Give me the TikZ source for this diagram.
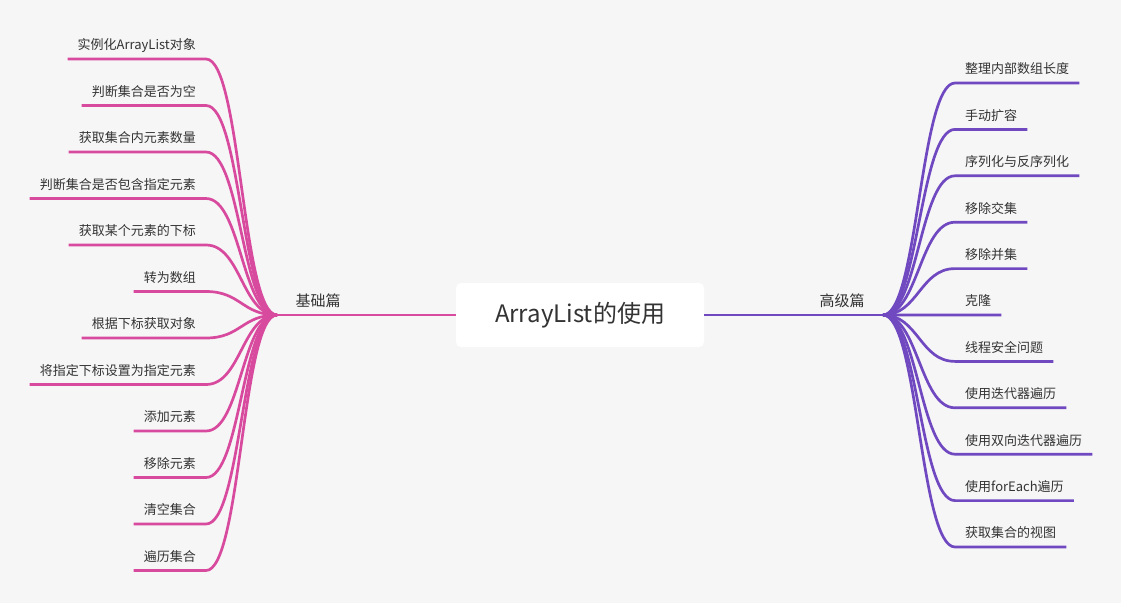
\documentclass[tikz,border=0pt]{standalone}
\usepackage{fontspec}
\setmainfont{Noto Sans CJK SC}
\definecolor{pagebg}{HTML}{F6F6F7}
\definecolor{basiccol}{HTML}{D84A9E}
\definecolor{advcol}{HTML}{7049C1}
\definecolor{textcol}{HTML}{333333}

\begin{document}
\begin{tikzpicture} [
                x=1pt,
                y=-1pt,
                root/.style = {rectangle,rounded corners=5pt,fill=white,minimum width=248pt,minimum height=64pt,font=\fontsize{24}{28}\selectfont,text=textcol},
                branch/.style = {font=\fontsize{15}{18}\selectfont,text=textcol},
                leaf/.style = {font=\fontsize{13}{16}\selectfont,text=textcol,inner xsep=10pt,inner ysep=6pt,text height=10pt,text depth=3pt},
                basic leaf/.style = {leaf,anchor=south east},
                adv leaf/.style = {leaf,anchor=south west},
                basic edge/.style = {draw,line width=2.7pt,-,basiccol},
                adv edge/.style = {draw,line width=2.7pt,-,advcol}
            ]
        % background and page size
            \fill[pagebg] (0,0) rectangle (1121,603);
            \useasboundingbox (0,0) rectangle (1121,603);
        % First we draw the root, the hubs and the branch titles
            \node[root] (root) at (580,315) {ArrayList的使用};
            \coordinate (bhub) at (277,315);
            \coordinate (ahub) at (883,315);
            \node[branch] (basic) at (318,301) {基础篇};
            \node[branch] (adv) at (842,301) {高级篇};
        % leaves of the basic branch
            \foreach \txt [count=\i] in {
                实例化ArrayList对象,
                判断集合是否为空,
                获取集合内元素数量,
                判断集合是否包含指定元素,
                获取某个元素的下标,
                转为数组,
                根据下标获取对象,
                将指定下标设置为指定元素,
                添加元素,
                移除元素,
                清空集合,
            遍历集合}
            \node[basic leaf] (b\i) at (206,12.5+46.5*\i) {\txt};
        % leaves of the advanced branch
            \foreach \txt [count=\i] in {
                整理内部数组长度,
                手动扩容,
                序列化与反序列化,
                移除交集,
                移除并集,
                克隆,
                线程安全问题,
                使用迭代器遍历,
                使用双向迭代器遍历,
                使用forEach遍历,
            获取集合的视图}
            \node[adv leaf] (a\i) at (955,36.6+46.4*\i) {\txt};
        % Connect everything
            \path[basic edge] (root.west) -- (bhub);
            \path[adv edge] (root.east) -- (ahub);
            \foreach \i in {1,...,12}
            \path[basic edge] (bhub) .. controls +(-35,0) and +(35,0) .. (b\i.south east) -- (b\i.south west);
            \foreach \i in {1,...,11}
            \path[adv edge] (ahub) .. controls +(35,0) and +(-35,0) .. (a\i.south west) -- (a\i.south east);
        \end{tikzpicture}
\end{document}
